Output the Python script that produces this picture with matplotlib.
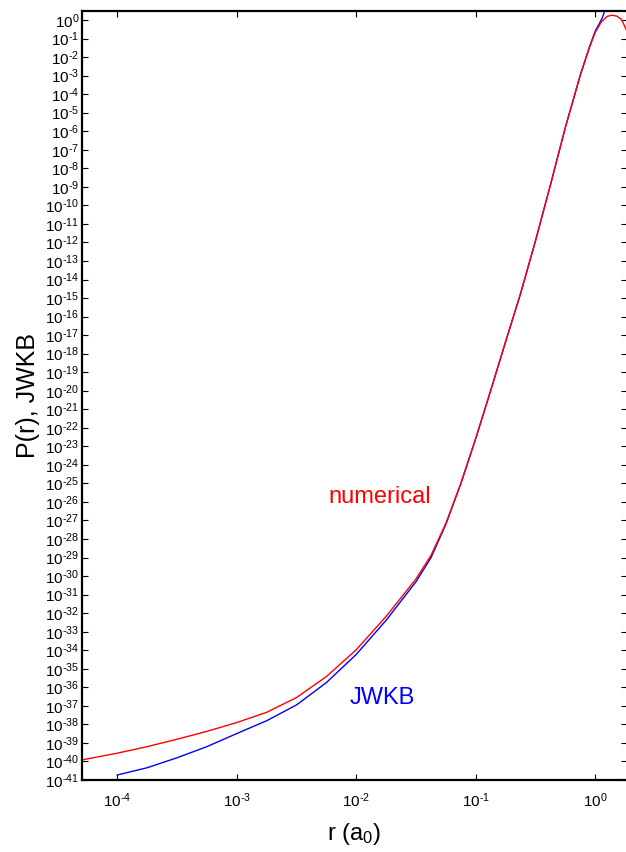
import numpy as np
import matplotlib
matplotlib.use('Agg')
import matplotlib.pyplot as plt
from matplotlib.ticker import FixedLocator, FuncFormatter, NullLocator

plt.rcParams['font.family'] = ['Liberation Sans', 'DejaVu Sans']
plt.rcParams['mathtext.fontset'] = 'custom'
plt.rcParams['mathtext.rm'] = 'Liberation Sans'
plt.rcParams['mathtext.default'] = 'regular'
plt.rcParams['axes.unicode_minus'] = False

# numerical solution (r in a0)
r_num = [5.01e-5, 1.0e-4, 1.78e-4, 3.16e-4, 5.62e-4, 1.0e-3, 1.78e-3, 3.16e-3,
         5.62e-3, 1.0e-2, 1.78e-2, 3.16e-2, 4.22e-2, 5.62e-2, 7.50e-2, 0.100,
         0.133, 0.178, 0.237, 0.316, 0.422, 0.562, 0.750, 0.891, 1.0, 1.122,
         1.259, 1.380, 1.514, 1.660, 1.820, 2.0]
P_num = [1.2e-40, 2.8e-40, 6.3e-40, 1.58e-39, 4.2e-39, 1.26e-38, 4.5e-38, 2.8e-37,
         3.8e-36, 1.07e-34, 6.8e-33, 7.1e-31, 1.32e-29, 7.1e-28, 1.0e-25, 2.75e-23,
         1.0e-20, 4.7e-18, 1.78e-15, 1.26e-12, 1.35e-9, 1.66e-6, 1.12e-3, 3.2e-2,
         0.22, 0.79, 1.58, 1.82, 1.62, 1.05, 0.28, 0.05]

# JWKB approximation
r_wkb = [1.0e-4, 1.78e-4, 3.16e-4, 5.62e-4, 1.0e-3, 1.78e-3, 3.16e-3, 5.62e-3,
         1.0e-2, 1.78e-2, 3.16e-2, 4.22e-2, 5.62e-2, 7.50e-2, 0.100, 0.133,
         0.178, 0.237, 0.316, 0.422, 0.562, 0.750, 0.891, 1.0, 1.096, 1.148,
         1.205, 1.245]
P_wkb = [1.86e-41, 4.6e-41, 1.58e-40, 6.3e-40, 3.2e-39, 1.58e-38, 1.12e-37, 1.8e-36,
         6.0e-35, 4.2e-33, 5.0e-31, 1.0e-29, 6.3e-28, 1.0e-25, 2.75e-23, 1.0e-20,
         4.7e-18, 1.78e-15, 1.26e-12, 1.35e-9, 1.66e-6, 1.12e-3, 3.4e-2, 0.26,
         0.76, 1.41, 3.5, 32.0]

x_ticks = [1e-4, 1e-3, 1e-2, 1e-1, 1e0]
y_exps = list(range(-41, 1))

fig = plt.figure(figsize=(6.26, 8.52), dpi=100)
ax = fig.add_axes([82 / 626, 72 / 852, 545 / 626, 769 / 852])

ax.plot(r_wkb, P_wkb, color='#0000ff', lw=1.0)
ax.plot(r_num, P_num, color='#ff0000', lw=1.0)

ax.set_xscale('log')
ax.set_yscale('log')
ax.set_xlim(5.07e-5, 1.84)
ax.set_ylim(1e-41, 3.06)


def decade(v, pos):
    e = int(round(np.log10(v)))
    if e < 0:
        return r'10$^{\text{-}%d}$' % (-e)
    return r'10$^{%d}$' % e


ax.xaxis.set_major_locator(FixedLocator(x_ticks))
ax.yaxis.set_major_locator(FixedLocator([10.0 ** e for e in y_exps]))
ax.xaxis.set_minor_locator(NullLocator())
ax.yaxis.set_minor_locator(NullLocator())
ax.xaxis.set_major_formatter(FuncFormatter(decade))
ax.yaxis.set_major_formatter(FuncFormatter(decade))

ax.tick_params(axis='both', which='major', direction='in', length=4.5, width=0.8,
               labelsize=11, top=True, right=True)
ax.tick_params(axis='y', pad=2)
ax.tick_params(axis='x', pad=8)
for t in ax.yaxis.get_ticklines()[1::2]:
    t.set_color('0.55')

for side in ['left', 'bottom', 'top']:
    ax.spines[side].set_linewidth(1.6)
ax.spines['right'].set_visible(False)

ax.text(0.0158, 10 ** -25.73, 'numerical', color='#ff0000', fontsize=17,
        ha='center', va='center')
ax.text(0.0165, 10 ** -36.6, 'JWKB', color='#0000ff', fontsize=17,
        ha='center', va='center')

ax.set_xlabel('r (a$_0$)', fontsize=17, labelpad=8)
ax.set_ylabel('P(r), JWKB', fontsize=18, labelpad=4)

fig.savefig('out.png', dpi=100)
